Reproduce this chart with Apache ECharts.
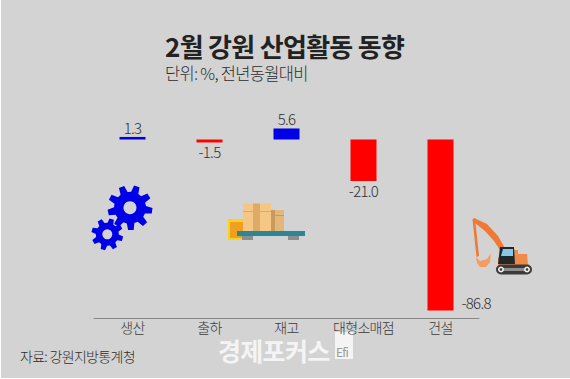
<!DOCTYPE html>
<html><head><meta charset="utf-8">
<style>
html,body{margin:0;padding:0;background:#fff;overflow:hidden}
#c{width:570px;height:379px}
text{letter-spacing:-0.7px}
</style>
<script src="https://cdn.jsdelivr.net/npm/echarts@6/dist/echarts.min.js"></script>
</head><body><div id="c"></div>
<script>
const categories = ['생산','출하','재고','대형소매점','건설'];
const values = [1.3,-1.5,5.6,-21.0,-86.8];
const titleText = '2월 강원 산업활동 동향';
const subtitleText = '단위: %, 전년동월대비';
const sourceText = '자료: 강원지방통계청';
const watermarkText = '경제포커스';

const FONT = '"Noto Sans CJK KR"';
const BG = '#d3d3d3', BLUE = '#0000e6', RED = '#ff0000', INK = '#2e2e2e';

function gear(cx, cy, R, r, hole, teeth, rot) {
  const pts = [], step = Math.PI * 2 / teeth;
  for (let i = 0; i < teeth; i++) {
    const a = rot + i * step;
    [[-0.5,r],[-0.28,R],[0.22,R],[0.44,r]].forEach(([k,rad]) => {
      const t = a + k * step * 0.72;
      pts.push([cx + rad * Math.cos(t), cy + rad * Math.sin(t)]);
    });
  }
  return [
    {type:'polygon',shape:{points:pts},style:{fill:BLUE}},
    {type:'circle',shape:{cx,cy,r:hole},style:{fill:BG}}
  ];
}
const rect = (x,y,w,h,fill,extra) => ({type:'rect',shape:{x,y,width:w,height:h,...(extra||{})},style:{fill}});
const poly = (points,fill) => ({type:'polygon',shape:{points},style:{fill}});
const circ = (cx,cy,r,fill) => ({type:'circle',shape:{cx,cy,r},style:{fill}});
const txt = (x,y,text,size,weight,fill,align) => ({type:'text',x,y,style:{text,fill,font:`${weight} ${size}px ${FONT}`,lineHeight:Math.round(size*1.05),textAlign:align||'left',textVerticalAlign:'middle'}});

const decor = [
  rect(1,0,569,378,BG),
  ...gear(130,207.7,22.5,16,6.5,9,0.15),
  ...gear(107.3,234.3,16,11.5,5,8,0.3),
  // boxes on a pallet
  rect(228,219,16,21,'#f7d21e'),
  rect(230,222,14,16,'#f0a020'),
  rect(243,203.5,28,28,'#f6c684'),
  rect(253,203.5,7,28,'#deaa68'),
  rect(243,211,28,1,'#deaa68'),
  rect(271,210,13,22,'#e3b679'),
  rect(271,210,4,22,'#c99a5c'),
  rect(271,215,13,1,'#c99a5c'),
  rect(237,231,68,5,'#2a8798'),
  rect(242,236,11,4,'#8d8d8d'),
  rect(288,236,11,4,'#8d8d8d'),
  // excavator
  poly([[472.5,219],[475,218],[479,256],[476.5,257]],'#ee7a35'),
  poly([[474,218],[487,224],[498,236],[506,250],[502,253],[494,241],[485,231],[475,223]],'#ee7a35'),
  poly([[476,257],[480,261],[487,259],[491,253],[490,262],[486,267],[480,267],[477,263]],'#f59c60'),
  poly([[506,250],[518,250],[518,254],[527,254],[528,265],[498,265],[498,258]],'#f08a48'),
  poly([[500,247],[514,247],[515,264],[498,264]],'#20282c'),
  poly([[503,249],[513,249],[513,256],[501,256]],'#86c8e6'),
  rect(496,264.5,36,10,'#3a3a3a',{r:5}),
  rect(502,268,24,3,'#8d8d8d'),
  circ(501,269.5,3,'#eeeeee'),circ(527,269.5,3,'#eeeeee'),
  circ(501,269.5,1.3,'#3a3a3a'),circ(527,269.5,1.3,'#3a3a3a'),
  // texts
  txt(165,45,titleText,26,700,'#222222'),
  txt(165,73,subtitleText,16.5,300,INK),
  txt(20,356,sourceText,14,300,INK),
  txt(218,350,watermarkText,25,700,'#f4f4f4'),
  rect(335,332,18,27,'#f4f4f4'),
  txt(336,351,'Efi',12,400,'#9a9a9a')
];

const chart = echarts.init(document.getElementById('c'),null,{renderer:'svg'});
chart.setOption({
  animation:false,
  backgroundColor:'#ffffff',
  grid:{left:94,width:385,top:120.8,height:197},
  xAxis:{type:'category',data:categories,position:'bottom',
    axisLine:{onZero:false,lineStyle:{color:'#888888',width:1}},axisTick:{show:false},
    axisLabel:{interval:0,color:'#3a3a3a',fontFamily:FONT,fontWeight:300,fontSize:14,margin:2}},
  yAxis:{type:'value',min:-90.5,max:9.5,show:false,splitLine:{show:false}},
  graphic:{elements:decor.map(e=>({...e,z:e.type==='text'?10:0,silent:true}))},
  series:[{type:'bar',barWidth:26,z:5,
    data:values.map((v,i)=>{
      const last = i===values.length-1;
      return {value:v,
        itemStyle:{color:v>=0?BLUE:RED},
        label:last?{position:['100%','100%'],offset:[8,-16]}:{position:v>=0?'top':'bottom'}};
    }),
    label:{show:true,color:INK,fontFamily:FONT,fontWeight:300,fontSize:15,distance:2,
      formatter:p=>p.value.toFixed(1)}
  }]
});
</script></body></html>
